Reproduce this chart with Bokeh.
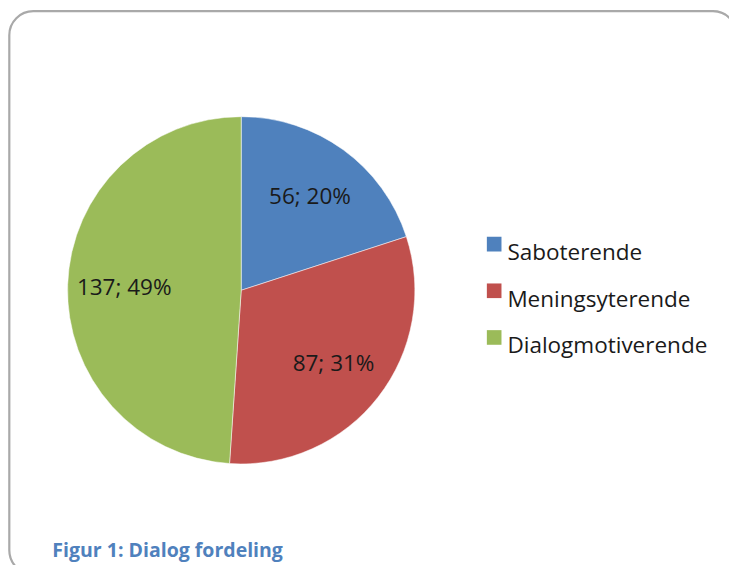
import numpy as np
from bokeh.plotting import figure
from bokeh.models import Range1d, ColumnDataSource
from bokeh.core.properties import value
from bokeh.embed import file_html
from bokeh.resources import INLINE

categories = ["Saboterende", "Meningsyterende", "Dialogmotiverende"]
counts = [56, 87, 137]
percent_labels = ["20%", "31%", "49%"]
colors = ["#4F81BD", "#C0504D", "#9BBB59"]
caption = "Figur 1: Dialog fordeling"

W, H = 729, 565
SX, SY = W / 745, H / 581
S = (SX + SY) / 2

p = figure(width=W, height=H, x_range=Range1d(0, W), y_range=Range1d(0, H),
           min_border=0, toolbar_location=None, output_backend="svg")
p.axis.visible = False
p.grid.visible = False
p.outline_line_color = None
p.background_fill_color = "white"
p.border_fill_color = "white"

def fx(px):
    return px * SX

def fy(py):
    return H - py * SY

# rounded frame
p.quad(left=fx(9), right=fx(752.6), top=fy(11), bottom=fy(590),
       fill_color=None, line_color="#A9A9A9", line_width=2.2, border_radius=24)

# pie
cx, cy, R = fx(246), fy(298), 178 * S
vals = np.array(counts, dtype=float)
frac = vals / vals.sum()
ends = np.pi / 2 - 2 * np.pi * np.cumsum(frac)
starts = np.concatenate([[np.pi / 2], ends[:-1]])
src = ColumnDataSource(dict(start=starts, end=ends, color=colors))
p.wedge(x=cx, y=cy, radius=R, start_angle="start", end_angle="end",
        direction="clock", fill_color="color", line_color="white",
        line_width=0.5, source=src)

mids = (starts + ends) / 2
lr = 120 * S
labels = [f"{c}; {pc}" for c, pc in zip(counts, percent_labels)]
lsrc = ColumnDataSource(dict(x=cx + lr * np.cos(mids), y=cy + lr * np.sin(mids), t=labels))
p.text(x="x", y="y", text="t", source=lsrc, text_align="center",
       text_baseline="middle", text_font=value("Open Sans"),
       text_font_size="22.5px", text_color="#1a1a1a")

# legend
rows_py = [250.5, 298.5, 346.5]
gsrc = ColumnDataSource(dict(x=[fx(504.5)] * 3, y=[fy(v) for v in rows_py], color=colors,
                             tx=[fx(518)] * 3, ty=[fy(v + 7.5) for v in rows_py],
                             t=categories))
p.scatter(x="x", y="y", marker="square", size=15 * S, fill_color="color",
          line_color=None, source=gsrc)
p.text(x="tx", y="ty", text="t", source=gsrc, text_align="left",
       text_baseline="alphabetic", text_font=value("Open Sans"),
       text_font_size="22.5px", text_color="#1a1a1a")

# caption
p.text(x=[fx(53)], y=[16], text=[caption], text_align="left",
       text_baseline="alphabetic", text_font=value("Open Sans"),
       text_font_style="bold", text_font_size="19.5px", text_color="#4F81BD")

open("out.html", "w").write(file_html(p, INLINE))
